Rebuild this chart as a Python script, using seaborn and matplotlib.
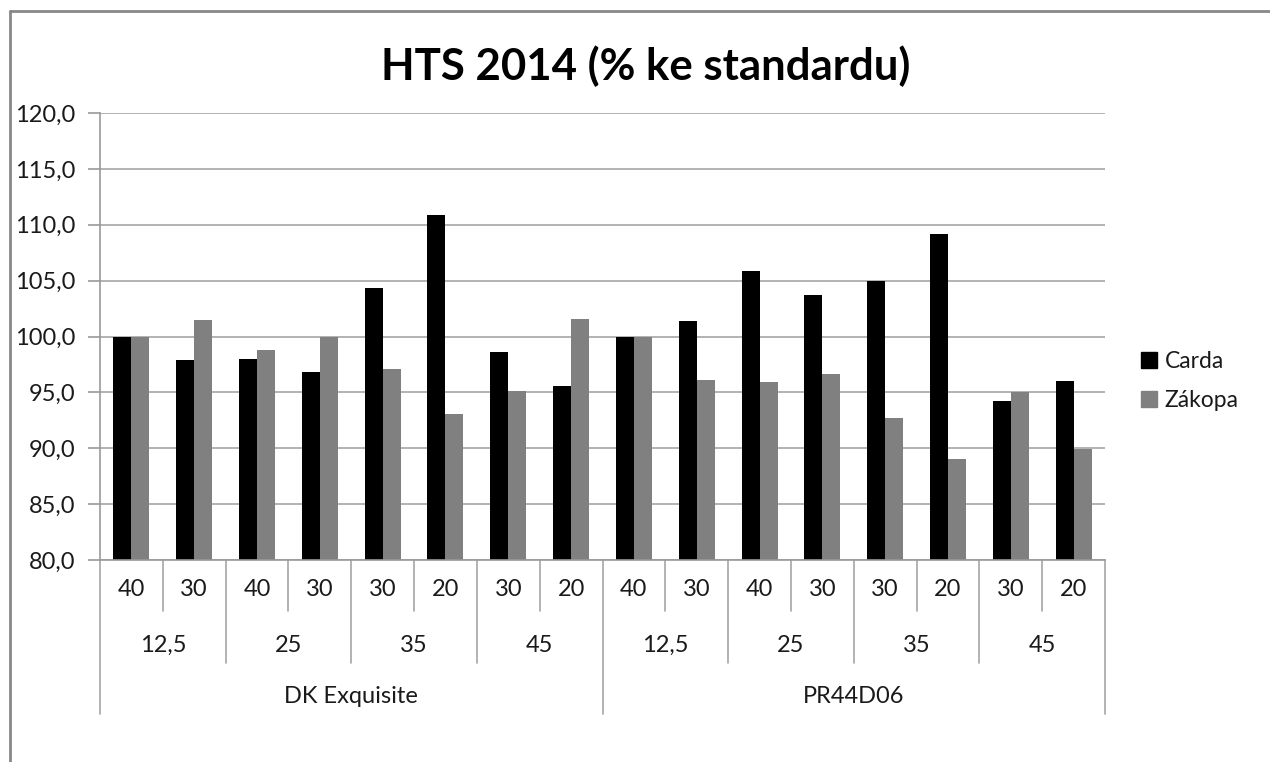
import matplotlib
matplotlib.use("Agg")
import matplotlib.pyplot as plt
import matplotlib.lines as mlines
from matplotlib.ticker import FuncFormatter, MultipleLocator
import matplotlib.transforms as mtransforms
import seaborn as sns
import pandas as pd

# ---- data ----
title = "HTS 2014 (% ke standardu)"
series_names = ["Carda", "Zákopa"]
hybrids = ["DK Exquisite", "PR44D06"]
dose_groups = ["12,5", "25", "35", "45"]
row1_labels = ["40", "30", "40", "30", "30", "20", "30", "20",
               "40", "30", "40", "30", "30", "20", "30", "20"]
carda = [100.0, 97.9, 98.0, 96.8, 104.3, 110.9, 98.6, 95.6,
         100.0, 101.4, 105.9, 103.7, 105.0, 109.2, 94.2, 96.0]
zakopa = [100.0, 101.5, 98.8, 100.0, 97.1, 93.1, 95.1, 101.6,
          100.0, 96.1, 95.9, 96.6, 92.7, 89.0, 95.0, 89.9]
colors = ["#000000", "#808080"]

n = len(row1_labels)
cats = [str(i) for i in range(n)]
df = pd.DataFrame({
    "cat": cats * 2,
    "value": carda + zakopa,
    "series": [series_names[0]] * n + [series_names[1]] * n,
})

sns.set_theme(style="white")
plt.rcParams["font.family"] = ["Lato", "DejaVu Sans"]

W, H = 1270, 762
fig = plt.figure(figsize=(W / 100, H / 100), dpi=100)
ax = fig.add_axes([100 / W, 1 - 560 / H, 1005 / W, 447 / H])

sns.barplot(data=df, x="cat", y="value", hue="series", order=cats,
            hue_order=series_names, palette=colors, width=0.573, gap=0,
            saturation=1, ax=ax, legend=False, edgecolor="none", linewidth=0)

fs = 17
tc = "#1a1a1a"
lc = "#a6a6a6"

ax.set_ylim(80, 120)
ax.set_xlim(-0.5, n - 0.5)
ax.yaxis.set_major_locator(MultipleLocator(5))
ax.yaxis.set_major_formatter(FuncFormatter(lambda v, p: f"{v:.1f}".replace(".", ",")))
ax.grid(axis="y", color=lc, linewidth=1.2)
ax.set_axisbelow(True)
ax.set_xlabel("")
ax.set_ylabel("")
for s in ["top", "right"]:
    ax.spines[s].set_visible(False)
for s in ["left", "bottom"]:
    ax.spines[s].set_color("#999999")
    ax.spines[s].set_linewidth(1.2)
ax.tick_params(axis="y", left=True, length=9, width=1.2, color="#999999",
               labelsize=fs, labelcolor=tc, pad=9)
ax.tick_params(axis="x", bottom=False, labelbottom=False)

trans = mtransforms.blended_transform_factory(ax.transData, ax.transAxes)
y1, y2, y3 = -0.067, -0.192, -0.306
b1, b2, b3 = -0.114, -0.230, -0.345

# row 1 labels
for i, lab in enumerate(row1_labels):
    ax.text(i, y1, lab, transform=trans, ha="center", va="center", fontsize=fs, color=tc)
# row 2 labels
per_group = n // (len(hybrids) * len(dose_groups))
for g in range(len(hybrids) * len(dose_groups)):
    cx = g * per_group + (per_group - 1) / 2
    ax.text(cx, y2, dose_groups[g % len(dose_groups)], transform=trans,
            ha="center", va="center", fontsize=fs, color=tc)
# row 3 labels
per_h = n // len(hybrids)
for h, name in enumerate(hybrids):
    cx = h * per_h + (per_h - 1) / 2
    ax.text(cx, y3, name, transform=trans, ha="center", va="center", fontsize=fs, color=tc)

# separators
for k in range(n + 1):
    x = k - 0.5
    if k % per_h == 0:
        bot = b3
    elif k % per_group == 0:
        bot = b2
    else:
        bot = b1
    ax.plot([x, x], [0, bot], transform=trans, color=lc, lw=1.2, clip_on=False)

fig.text(646 / W, 1 - 80 / H, title, fontsize=31.5, fontweight="bold", color="#000000",
         ha="center", va="baseline")

handles = [mlines.Line2D([], [], marker="s", linestyle="none", markersize=11,
                         markerfacecolor=c, markeredgecolor=c) for c in colors]
fig.legend(handles, series_names, loc="center left", bbox_to_anchor=(1130 / W, 1 - 381 / H),
           frameon=False, fontsize=16.5, handlelength=0.7, handletextpad=0.3,
           labelspacing=0.82, borderpad=0, labelcolor=tc)

# outer chart frame (top and left edges visible in reference crop)
fig.add_artist(mlines.Line2D([10 / W, 1], [1 - 11 / H, 1 - 11 / H], color="#888888", lw=2,
                             transform=fig.transFigure))
fig.add_artist(mlines.Line2D([10 / W, 10 / W], [0, 1 - 11 / H], color="#888888", lw=2,
                             transform=fig.transFigure))

fig.savefig("out.png", dpi=100, facecolor="white")
